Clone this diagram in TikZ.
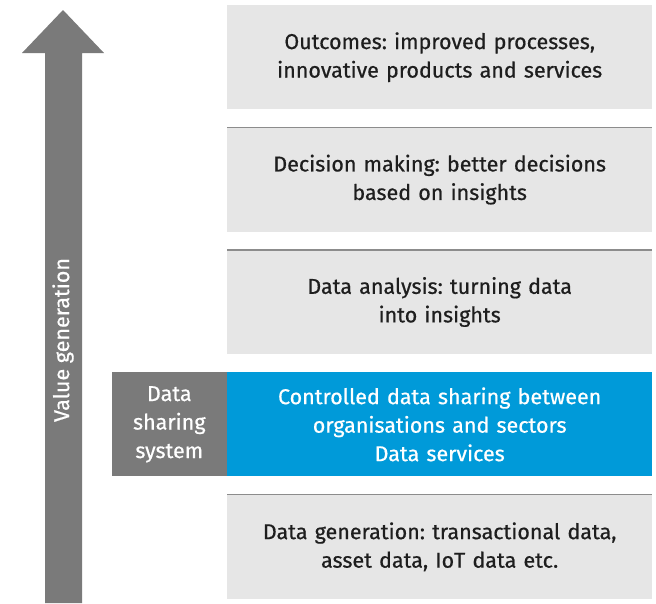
\documentclass[tikz,border=0pt]{standalone}
\usepackage{fontspec}
\setmainfont{Fira Sans}[BoldFont=Fira Sans, BoldFeatures={FakeBold=0.6}]
\usetikzlibrary{positioning}
\definecolor{boxgray}{HTML}{E6E6E6}
\definecolor{rulegray}{HTML}{8C8C8C}
\definecolor{sidegray}{HTML}{7A7A7A}
\definecolor{sharblue}{HTML}{009AD9}
\definecolor{txtdark}{HTML}{1E1E1E}
\begin{document}
\frenchspacing
\begin{tikzpicture}[x=1pt, y=-1pt, node distance=18pt,
    layer/.style={rectangle, fill=boxgray, minimum width=425pt, minimum height=104pt,
      inner sep=0pt, text width=415pt, align=center, text=txtdark,
      font=\fontsize{21.5}{28.5}\selectfont\bfseries},
    toprule/.style={rulegray, line width=1.6pt}]
	% Canvas
	\useasboundingbox (0,0) rectangle (656,603);
	% Value arrow
	\fill[sidegray] (45,603) -- (45,53) -- (22,53) -- (63,10) -- (104,53) -- (82,53) -- (82,603) -- cycle;
	\node [rotate=90, text=white, font=\fontsize{21.5}{26}\selectfont\bfseries] (val) at (63,340) {Value generation};
	% Place layers
	\node [layer, anchor=north west] (out) at (227,5) {Outcomes: improved processes,\\innovative products and services};
	\node [layer, below=of out] (dec) {Decision making: better decisions\\based on insights};
	\node [layer, below=of dec] (ana) {Data analysis: turning data\\into insights};
	\node [layer, below=of ana, fill=sharblue, text=white] (shar) {Controlled data sharing between\\organisations and sectors\\Data services};
	\node [layer, below=of shar] (gen) {Data generation: transactional data,\\asset data, IoT data etc.};
	\node [layer, left=0pt of shar, fill=sidegray, text=white, minimum width=115pt, text width=112pt] (sys) {Data\\sharing\\system};
	% Top rules
	\foreach \b in {dec, ana, gen}
	  \draw[toprule] (\b.north west) -- (\b.north east);
\end{tikzpicture}
\end{document}
